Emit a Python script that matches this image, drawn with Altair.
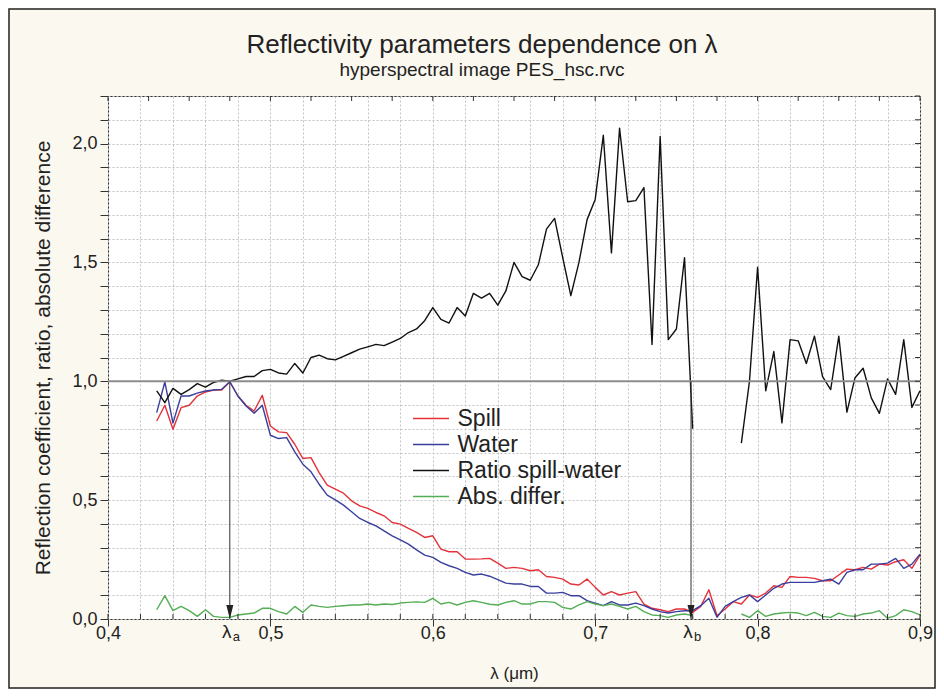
import altair as alt
import pandas as pd

# ---------------- data ----------------
lam = [0.430, 0.435, 0.440, 0.445, 0.450, 0.455, 0.460, 0.465, 0.470, 0.475,
       0.480, 0.485, 0.490, 0.495, 0.500, 0.505, 0.510, 0.515, 0.520, 0.525,
       0.530, 0.535, 0.540, 0.545, 0.550, 0.555, 0.560, 0.565, 0.570, 0.575,
       0.580, 0.585, 0.590, 0.595, 0.600, 0.605, 0.610, 0.615, 0.620, 0.625,
       0.630, 0.635, 0.640, 0.645, 0.650, 0.655, 0.660, 0.665, 0.670, 0.675,
       0.680, 0.685, 0.690, 0.695, 0.700, 0.705, 0.710, 0.715, 0.720, 0.725,
       0.730, 0.735, 0.740, 0.745, 0.750, 0.755, 0.760, 0.765, 0.770, 0.775,
       0.780, 0.785, 0.790, 0.795, 0.800, 0.805, 0.810, 0.815, 0.820, 0.825,
       0.830, 0.835, 0.840, 0.845, 0.850, 0.855, 0.860, 0.865, 0.870, 0.875,
       0.880, 0.885, 0.890, 0.895, 0.900]

spill = [0.833, 0.899, 0.798, 0.889, 0.899, 0.938, 0.955, 0.963, 0.963, 0.998,
         0.938, 0.899, 0.875, 0.941, 0.812, 0.787, 0.784, 0.735, 0.675, 0.679,
         0.616, 0.563, 0.546, 0.529, 0.497, 0.476, 0.465, 0.448, 0.434, 0.406,
         0.399, 0.381, 0.364, 0.343, 0.350, 0.294, 0.283, 0.283, 0.252, 0.252,
         0.253, 0.255, 0.235, 0.213, 0.217, 0.213, 0.203, 0.207, 0.179, 0.175,
         0.168, 0.147, 0.143, 0.168, 0.133, 0.101, 0.115, 0.101, 0.109, 0.115,
         0.063, 0.045, 0.039, 0.031, 0.042, 0.042, 0.028, 0.053, 0.123, 0.014,
         0.042, 0.073, 0.063, 0.101, 0.091, 0.109, 0.140, 0.133, 0.179, 0.175,
         0.175, 0.171, 0.161, 0.161, 0.185, 0.210, 0.207, 0.217, 0.210, 0.231,
         0.227, 0.241, 0.249, 0.213, 0.269]

water = [0.868, 0.997, 0.824, 0.938, 0.938, 0.950, 0.959, 0.963, 0.966, 0.998,
         0.938, 0.896, 0.866, 0.899, 0.773, 0.759, 0.763, 0.703, 0.651, 0.619,
         0.567, 0.521, 0.501, 0.479, 0.451, 0.423, 0.406, 0.392, 0.371, 0.350,
         0.333, 0.315, 0.291, 0.269, 0.259, 0.238, 0.224, 0.213, 0.196, 0.185,
         0.189, 0.180, 0.166, 0.151, 0.147, 0.147, 0.137, 0.137, 0.109, 0.109,
         0.112, 0.098, 0.098, 0.077, 0.067, 0.056, 0.073, 0.059, 0.059, 0.067,
         0.056, 0.042, 0.031, 0.025, 0.031, 0.035, 0.035, 0.056, 0.087, 0.007,
         0.053, 0.073, 0.091, 0.101, 0.073, 0.101, 0.129, 0.147, 0.154, 0.154,
         0.154, 0.154, 0.161, 0.168, 0.147, 0.196, 0.207, 0.207, 0.231, 0.231,
         0.235, 0.255, 0.213, 0.231, 0.273]

ratio = [0.96, 0.91, 0.97, 0.945, 0.965, 0.99, 0.975, 0.995, 1.005, 1.00,
         1.01, 1.02, 1.02, 1.045, 1.05, 1.035, 1.03, 1.075, 1.035, 1.10,
         1.11, 1.095, 1.09, 1.105, 1.12, 1.135, 1.145, 1.155, 1.15, 1.165,
         1.18, 1.205, 1.22, 1.255, 1.31, 1.26, 1.245, 1.31, 1.275, 1.37,
         1.35, 1.37, 1.32, 1.38, 1.50, 1.44, 1.425, 1.49, 1.64, 1.685,
         1.52, 1.36, 1.50, 1.68, 1.765, 2.035, 1.54, 2.065, 1.755, 1.76,
         1.815, 1.155, 2.03, 1.175, 1.22, 1.52, 0.80, None, None, None,
         None, None, 0.74, 1.0, 1.48, 0.96, 1.125, 0.825, 1.175, 1.17,
         1.075, 1.19, 1.02, 0.965, 1.19, 0.87, 1.015, 1.055, 0.93, 0.865,
         1.01, 0.945, 1.175, 0.89, 0.96]

absdiff = [0.039, 0.098, 0.035, 0.053, 0.035, 0.011, 0.039, 0.011, 0.007, 0.007,
           0.017, 0.021, 0.025, 0.045, 0.045, 0.031, 0.021, 0.053, 0.028, 0.059,
           0.053, 0.049, 0.053, 0.056, 0.059, 0.059, 0.063, 0.059, 0.063, 0.061,
           0.067, 0.070, 0.072, 0.070, 0.087, 0.063, 0.070, 0.059, 0.070, 0.077,
           0.070, 0.062, 0.059, 0.070, 0.077, 0.063, 0.063, 0.073, 0.073, 0.070,
           0.049, 0.042, 0.059, 0.073, 0.063, 0.056, 0.063, 0.053, 0.042, 0.053,
           0.031, 0.017, 0.014, 0.007, 0.017, 0.021, 0.014, None, None, None,
           None, None, 0.021, 0.007, 0.035, 0.011, 0.021, 0.025, 0.028, 0.025,
           0.014, 0.028, 0.011, 0.007, 0.025, 0.014, 0.011, 0.021, 0.025, 0.035,
           0.003, 0.014, 0.039, 0.031, 0.017]

series_names = ["Spill", "Water", "Ratio spill-water", "Abs. differ."]
series_colors = ["#e3323a", "#3a3f9e", "#111111", "#55ae55"]
series_widths = [1.4, 1.4, 2.6, 1.4]

x_ticks = [0.40, 0.42, 0.44, 0.46, 0.48, 0.50, 0.52, 0.54, 0.56, 0.58, 0.60,
           0.62, 0.64, 0.66, 0.68, 0.70, 0.72, 0.74, 0.76, 0.78, 0.80, 0.82,
           0.84, 0.86, 0.88, 0.90]
y_ticks = [0.0, 0.1, 0.2, 0.3, 0.4, 0.5, 0.6, 0.7, 0.8, 0.9, 1.0, 1.1, 1.2,
           1.3, 1.4, 1.5, 1.6, 1.7, 1.8, 1.9, 2.0, 2.1, 2.2]
top_ticks = [0.400, 0.425, 0.450, 0.475, 0.500, 0.525, 0.550, 0.575, 0.600,
             0.625, 0.650, 0.675, 0.700, 0.725, 0.750, 0.775, 0.800, 0.825,
             0.850, 0.875, 0.900]
marker_lam = [0.475, 0.759]
marker_sub = ["a", "b"]
ref_level = [1.0]

# ---------------- tables ----------------
rows = []
for name, vals in zip(series_names, [spill, water, ratio, absdiff]):
    seg = 0
    for l, v in zip(lam, vals):
        if v is None:
            seg += 1
            continue
        rows.append({"lam": l, "val": v, "series": name, "seg": f"{name}-{seg}"})
df = pd.DataFrame(rows)

markers = pd.DataFrame({"lam": marker_lam, "top": [1.0, 1.0], "bot": [0.0, 0.0],
                        "sym": ["λ", "λ"], "sub": marker_sub})

W, H = 812, 523
FONT = "Liberation Sans"
TXT = "#222222"

X_SCALE = alt.Scale(domain=[0.4, 0.9], nice=False, zero=False)
Y_SCALE = alt.Scale(domain=[0.0, 2.2], nice=False, zero=False)

tenth = "abs(datum.value*10 - round(datum.value*10)) < 0.001"
half = "abs(datum.value*2 - round(datum.value*2)) < 0.001"

x_axis = alt.Axis(
    values=x_ticks, grid=True, gridColor="#c2c2c2", gridDash=[2, 2], gridWidth=1,
    domain=False, tickSize=7, tickColor="#333333", tickWidth=1,
    tickOpacity={"condition": {"test": tenth, "value": 1}, "value": 0},
    labelExpr=f"{tenth} ? replace(format(datum.value, '.1f'), '.', ',') : ''",
    labelOverlap=False, labelFlush=False, labelFont=FONT, labelFontSize=18,
    labelColor=TXT, labelPadding=-2,
    title="λ (μm)", titleFont=FONT, titleFontSize=17, titleFontWeight="normal",
    titleColor=TXT, titlePadding=23)

y_axis = alt.Axis(
    values=y_ticks, grid=True, gridColor="#c2c2c2", gridDash=[2, 2], gridWidth=1,
    domain=False, tickSize=8, tickColor="#333333", tickWidth=1,
    labelExpr=f"{half} ? replace(format(datum.value, '.1f'), '.', ',') : ''",
    labelOverlap=False, labelFlush=False, labelFont=FONT, labelFontSize=18,
    labelColor=TXT, labelPadding=3,
    title="Reflection coefficient, ratio, absolute difference", titleFont=FONT,
    titleFontSize=21, titleFontWeight="normal", titleColor=TXT, titlePadding=18)


def X(field):
    return alt.X(field, scale=X_SCALE, axis=x_axis)


def Y(field):
    return alt.Y(field, scale=Y_SCALE, axis=y_axis)


lines = alt.Chart(df).mark_line(strokeJoin="round").encode(
    x=X("lam:Q"),
    y=Y("val:Q"),
    color=alt.Color("series:N", scale=alt.Scale(domain=series_names, range=series_colors),
                    sort=series_names, legend=alt.Legend(title=None)),
    strokeWidth=alt.StrokeWidth("series:O", scale=alt.Scale(domain=series_names, range=series_widths),
                                sort=series_names, legend=alt.Legend(title=None)),
    detail="seg:N",
    order=alt.Order("lam:Q"),
)

hline = alt.Chart(pd.DataFrame({"v": ref_level})).mark_rule(color="#8c8c8c", strokeWidth=2).encode(
    y=Y("v:Q"))

top_t = alt.Chart(pd.DataFrame({"t": top_ticks})).mark_rule(color="#333333", strokeWidth=1).encode(
    x=X("t:Q"), y=alt.value(0), y2=alt.value(5))
bot_t = alt.Chart(pd.DataFrame({"t": x_ticks})).mark_rule(color="#333333", strokeWidth=1).encode(
    x=X("t:Q"), y=alt.value(H), y2=alt.value(H - 5))
right_t = alt.Chart(pd.DataFrame({"t": y_ticks})).mark_rule(color="#333333", strokeWidth=1).encode(
    y=Y("t:Q"), x=alt.value(W), x2=alt.value(W - 5))

arrows = alt.Chart(markers).mark_rule(color="#333333", strokeWidth=1).encode(
    x=X("lam:Q"), y=Y("top:Q"), y2="bot:Q")
heads = alt.Chart(markers).mark_point(
    shape="M0,1L-0.5,-1L0.5,-1Z", filled=True, size=196, color="#222222", opacity=1, yOffset=-7
).encode(x=X("lam:Q"), y=Y("bot:Q"))
lab_sym = alt.Chart(markers).mark_text(font=FONT, fontSize=19, color=TXT, align="center",
                                        baseline="alphabetic", dx=-3).encode(
    x=X("lam:Q"), y=alt.value(H + 19), text="sym:N")
lab_sub = alt.Chart(markers).mark_text(font=FONT, fontSize=13, color=TXT, align="left",
                                        baseline="alphabetic", dx=3).encode(
    x=X("lam:Q"), y=alt.value(H + 22), text="sub:N")

frame = alt.Chart(pd.DataFrame({"a": [0]})).mark_rect(
    filled=False, stroke="#222222", strokeWidth=1.5).encode(
    x=alt.value(-99), x2=alt.value(W + 15), y=alt.value(-87), y2=alt.value(H + 69))

chart = alt.layer(
    lines, frame, hline, arrows, heads, lab_sym, lab_sub, top_t, bot_t, right_t
).properties(
    width=W, height=H,
    autosize=alt.AutoSizeParams(type="none"),
    padding={"left": 100, "top": 88, "right": 16, "bottom": 70},
    background="#fbf8ef",
    title=alt.TitleParams(
        "Reflectivity parameters dependence on λ",
        subtitle="hyperspectral image PES_hsc.rvc",
        anchor="middle", dx=-32, offset=-72, font=FONT, fontSize=26, fontWeight="normal",
        color=TXT, subtitleFont=FONT, subtitleFontSize=19, subtitleColor=TXT,
        subtitlePadding=3),
).configure_view(
    stroke="#333333", strokeWidth=1, fill="white"
).configure_legend(
    orient="none", legendX=305, legendY=311, padding=0,
    symbolType="M-3,0H3", symbolSize=144, symbolOffset=6.5,
    labelFont=FONT, labelFontSize=23, labelColor=TXT, labelLimit=300,
    labelOffset=15, rowPadding=2,
)

chart.save("out.html", embed_options={"renderer": "svg", "actions": False})
